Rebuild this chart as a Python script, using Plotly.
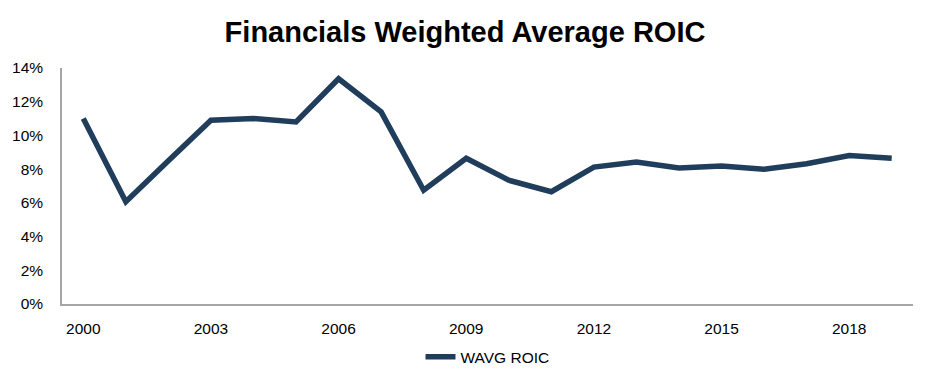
import plotly.graph_objects as go

years = [str(y) for y in range(2000, 2020)]
roic = [0.110, 0.0607, 0.085, 0.109, 0.110, 0.108, 0.1336, 0.114, 0.0675, 0.0865,
        0.0734, 0.0666, 0.0812, 0.0842, 0.0807, 0.0818, 0.0799, 0.0832, 0.0881, 0.0865]
tick_years = ["2000", "2003", "2006", "2009", "2012", "2015", "2018"]
series_name = "WAVG ROIC"
title_text = "Financials Weighted Average ROIC"

fig = go.Figure()
fig.add_trace(go.Scatter(
    x=years, y=roic, mode="lines", name=series_name,
    line=dict(color="#203E5C", width=5.5),
    showlegend=True,
))

fig.update_layout(
    width=930, height=386,
    margin=dict(l=59, r=17, t=68, b=79),
    paper_bgcolor="white", plot_bgcolor="white",
    font=dict(family="Liberation Sans, Arial, sans-serif", color="black", size=15.5),
    title=dict(text="<b>" + title_text + "</b>", x=0.5, xanchor="center",
               y=1 - 32 / 386, yanchor="middle",
               font=dict(size=29, family="Liberation Sans, Arial, sans-serif", color="black")),
    showlegend=True,
    legend=dict(orientation="h", x=0.5, xanchor="center", y=-0.225, yanchor="middle",
                font=dict(size=15.5)),
    xaxis=dict(type="category", tickmode="array", tickvals=tick_years, ticktext=tick_years,
               range=[-0.5, 19.5],
               showline=True, linecolor="#A6A6A6", linewidth=1.5, showgrid=False,
               ticks="", ticklabelstandoff=10, zeroline=False),
    yaxis=dict(range=[0, 0.14], dtick=0.02, tickformat=".0%",
               showline=True, linecolor="#A6A6A6", linewidth=1.5, showgrid=False,
               ticks="", ticklabelstandoff=14, zeroline=False),
)

fig.write_html("out.html", config={"displayModeBar": False},
               post_script="document.body.style.margin='0';")
